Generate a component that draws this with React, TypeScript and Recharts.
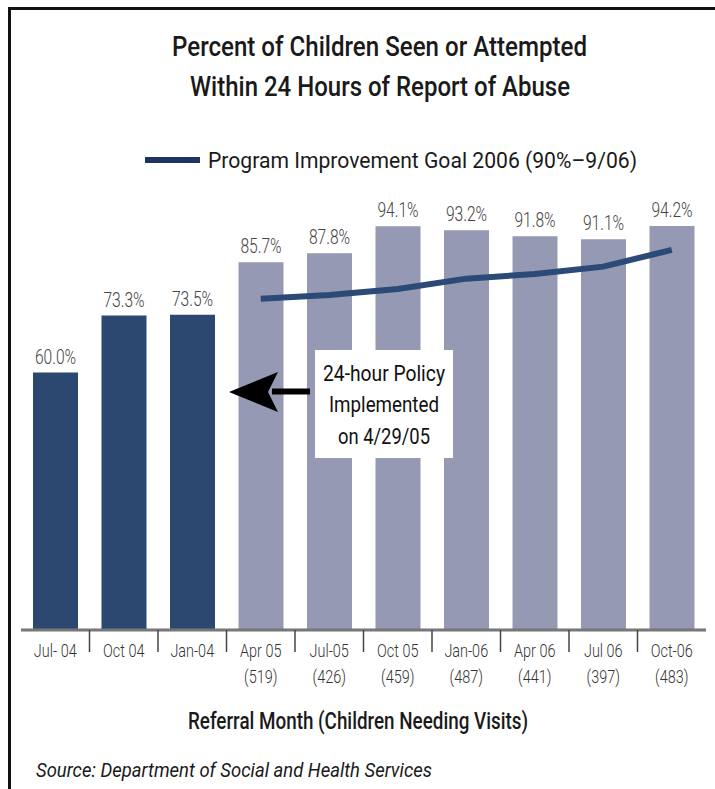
import React from 'react';
import { ComposedChart, Bar, Line, XAxis, YAxis, Cell, LabelList } from 'recharts';

const months = ['Jul- 04', 'Oct 04', 'Jan-04', 'Apr 05', 'Jul-05', 'Oct 05', 'Jan-06', 'Apr 06', 'Jul 06', 'Oct-06'];
const childrenNeeding = ['', '', '', '(519)', '(426)', '(459)', '(487)', '(441)', '(397)', '(483)'];
const percentSeen = [60.0, 73.3, 73.5, 85.7, 87.8, 94.1, 93.2, 91.8, 91.1, 94.2];
const goalLine = [null, null, null, 77.2, 78.1, 79.5, 81.9, 83.0, 84.7, 88.6];
const period = ['before', 'before', 'before', 'after', 'after', 'after', 'after', 'after', 'after', 'after'];

const W = 715;
const H = 789;
const DARK = '#2c4871';
const LIGHT = '#9599b3';
const GOAL = '#2b4a78';
const FONT = "Roboto, 'Noto Sans', sans-serif";

const data = months.map((m, i) => ({
    month: m,
    needing: childrenNeeding[i],
    pct: percentSeen[i],
    goal: goalLine[i],
    period: period[i],
}));

const MonthTick = (props: any) => {
    const { x, y, payload, index } = props;
    const half = payload?.offset ?? 34;
    const row = data[index] || {};
    return (
        <g>
            {index > 0 && (
                <line x1={x - half} y1={y} x2={x - half} y2={y + 22} stroke="#444" strokeWidth={1.5} />
            )}
            <text transform={`translate(${x},${y + 27}) scale(0.76,1)`} textAnchor="middle"
                fontFamily={FONT} fontSize={19} fill="#333" fontWeight={300}>
                {payload.value}
            </text>
            {row.needing && (
                <text transform={`translate(${x},${y + 53}) scale(0.76,1)`} textAnchor="middle"
                    fontFamily={FONT} fontSize={19} fill="#333" fontWeight={300}>
                    {row.needing}
                </text>
            )}
        </g>
    );
};

const ValueLabel = (props: any) => {
    const { x, y, width, value } = props;
    return (
        <text transform={`translate(${x + width / 2},${y - 9}) scale(0.78,1)`} textAnchor="middle"
            fontFamily={FONT} fontSize={20} fill="#444" fontWeight={300}>
            {Number(value).toFixed(1)}%
        </text>
    );
};

const App = () => {
    return (
        <div style={{ position: 'absolute', left: 0, top: 0, width: W, height: H, background: '#fff' }}>
            <ComposedChart width={W} height={H} data={data}
                margin={{ top: 201, right: 9, bottom: 99, left: 21 }}>
                <XAxis dataKey="month" height={60} interval={0} tickSize={0} tickMargin={0}
                    tickLine={false} axisLine={{ stroke: '#777', strokeWidth: 3 }} tick={<MonthTick />} />
                <YAxis hide domain={[0, 100]} />
                <Bar dataKey="pct" barSize={45} isAnimationActive={false}>
                    {data.map((d, i) => (
                        <Cell key={i} fill={d.period === 'before' ? DARK : LIGHT} />
                    ))}
                    <LabelList dataKey="pct" content={<ValueLabel />} />
                </Bar>
                <Line dataKey="goal" type="linear" stroke={GOAL} strokeWidth={6} dot={false}
                    activeDot={false} connectNulls={false} isAnimationActive={false} />
            </ComposedChart>

            <svg width={W} height={H} style={{ position: 'absolute', left: 0, top: 0, pointerEvents: 'none' }}>
                {/* frame */}
                <line x1={8} y1={8.5} x2={715} y2={8.5} stroke="#111" strokeWidth={3} />
                <line x1={9.5} y1={7} x2={9.5} y2={789} stroke="#111" strokeWidth={3} />

                {/* title */}
                <text x={172} y={56} textLength={415} lengthAdjust="spacingAndGlyphs"
                    fontFamily={FONT} fontSize={27} fontWeight={500} fill="#1a1a1a">
                    Percent of Children Seen or Attempted
                </text>
                <text x={190} y={96} textLength={380} lengthAdjust="spacingAndGlyphs"
                    fontFamily={FONT} fontSize={27} fontWeight={500} fill="#1a1a1a">
                    Within 24 Hours of Report of Abuse
                </text>

                {/* legend */}
                <line x1={145} y1={160} x2={200} y2={160} stroke="#1f3264" strokeWidth={6} />
                <text x={208} y={168} textLength={429} lengthAdjust="spacingAndGlyphs"
                    fontFamily={FONT} fontSize={22} fill="#1a1a1a">
                    Program Improvement Goal 2006 (90%–9/06)
                </text>

                {/* annotation */}
                <rect x={315} y={350} width={138} height={108} fill="#fff" />
                <text x={384} y={381} textAnchor="middle" textLength={122} lengthAdjust="spacingAndGlyphs"
                    fontFamily={FONT} fontSize={22} fill="#111">24-hour Policy</text>
                <text x={384} y={412} textAnchor="middle" textLength={110} lengthAdjust="spacingAndGlyphs"
                    fontFamily={FONT} fontSize={22} fill="#111">Implemented</text>
                <text x={384} y={444} textAnchor="middle" textLength={92} lengthAdjust="spacingAndGlyphs"
                    fontFamily={FONT} fontSize={22} fill="#111">on 4/29/05</text>
                <line x1={272} y1={391.5} x2={310} y2={391.5} stroke="#000" strokeWidth={6} />
                <polygon points="229,392 278,372 268,392 278,412" fill="#000" />

                {/* axis title and source */}
                <text x={188} y={729} textLength={340} lengthAdjust="spacingAndGlyphs"
                    fontFamily={FONT} fontSize={24} fontWeight={500} fill="#1a1a1a">
                    Referral Month (Children Needing Visits)
                </text>
                <text x={36} y={777} textLength={396} lengthAdjust="spacingAndGlyphs"
                    fontFamily={FONT} fontSize={20} fontStyle="italic" fill="#1a1a1a">
                    Source: Department of Social and Health Services
                </text>
            </svg>
        </div>
    );
};

export default App;
